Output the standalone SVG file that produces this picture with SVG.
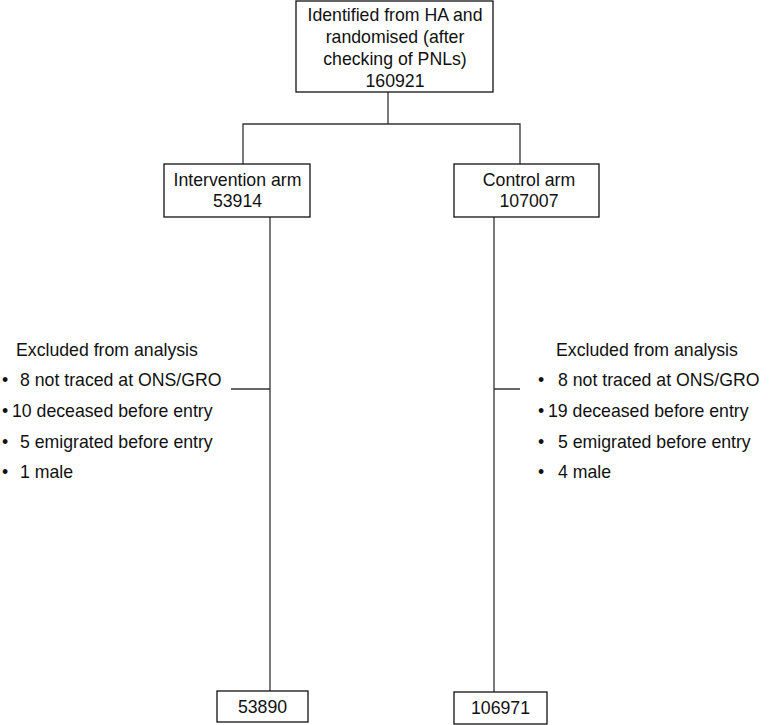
<svg xmlns="http://www.w3.org/2000/svg" width="774" height="725" viewBox="0 0 774 725">
<style>
text{font-family:"Liberation Sans",Arial,Helvetica,sans-serif;font-size:17.7px;fill:#111}
.c{text-anchor:middle}
.box{fill:#fff;stroke:#111;stroke-width:1.3}
.ln{fill:none;stroke:#333;stroke-width:1.3}
</style>
<rect width="774" height="725" fill="#fff"/>
<g id="connectors">
<path class="ln" d="M388 92V124M243 164V124H520V164"/>
<path class="ln" d="M270 217V691M231 389H270"/>
<path class="ln" d="M494 217V692M494 389H520"/>
</g>
<g id="n-top">
<rect class="box" x="296" y="1" width="197" height="91"/>
<text class="c" x="395" y="21">Identified from HA and</text>
<text class="c" x="395" y="43">randomised (after</text>
<text class="c" x="395" y="65">checking of PNLs)</text>
<text class="c" x="395" y="87">160921</text>
</g>
<g id="n-intervention">
<rect class="box" x="164" y="164" width="146" height="53"/>
<text class="c" x="237.5" y="186">Intervention arm</text>
<text class="c" x="237.5" y="207">53914</text>
</g>
<g id="n-control">
<rect class="box" x="454" y="164" width="145" height="53"/>
<text class="c" x="529" y="186">Control arm</text>
<text class="c" x="529" y="207">107007</text>
</g>
<g id="n-excl-left">
<text x="16" y="356">Excluded from analysis</text>
<text x="2" y="386">•</text><text x="20" y="386">8 not traced at ONS/GRO</text>
<text x="2" y="417">•</text><text x="12" y="417">10 deceased before entry</text>
<text x="2" y="448">•</text><text x="20" y="448">5 emigrated before entry</text>
<text x="2" y="478">•</text><text x="20" y="478">1 male</text>
</g>
<g id="n-excl-right">
<text x="556" y="356">Excluded from analysis</text>
<text x="538" y="386">•</text><text x="558" y="386">8 not traced at ONS/GRO</text>
<text x="538" y="417">•</text><text x="548" y="417">19 deceased before entry</text>
<text x="538" y="448">•</text><text x="558" y="448">5 emigrated before entry</text>
<text x="538" y="478">•</text><text x="558" y="478">4 male</text>
</g>
<g id="n-final-left">
<rect class="box" x="217" y="691" width="91" height="31"/>
<text class="c" x="262.5" y="713">53890</text>
</g>
<g id="n-final-right">
<rect class="box" x="454" y="692" width="93" height="32"/>
<text class="c" x="500.5" y="714">106971</text>
</g>
</svg>
